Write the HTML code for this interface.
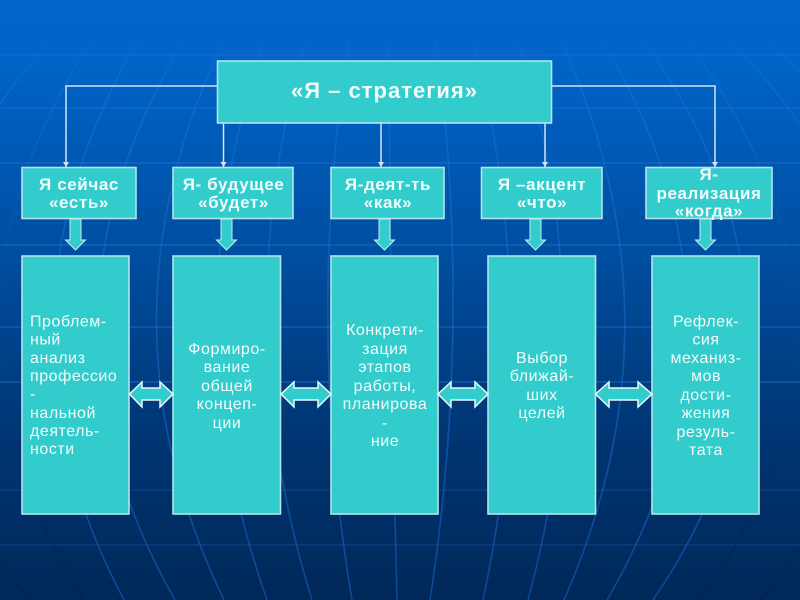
<!DOCTYPE html>
<html lang="ru">
<head>
<meta charset="utf-8">
<title>Я – стратегия</title>
<style>
html,body{margin:0;padding:0;width:800px;height:600px;overflow:hidden;background:#003a80}
svg{display:block;position:absolute;left:0;top:0;filter:blur(.35px)}
text{font-family:"Liberation Sans",sans-serif;fill:#f2fbfb;text-anchor:middle}
.h{font-weight:bold;font-size:17px;letter-spacing:.6px}
.b{font-size:16px;letter-spacing:.55px}
.l{text-anchor:start}
</style>
</head>
<body>
<svg width="800" height="600" viewBox="0 0 800 600" xmlns="http://www.w3.org/2000/svg">
<defs>
<linearGradient id="bg" x1="0" y1="0" x2="0" y2="1">
<stop offset="0" stop-color="#0066cc"/>
<stop offset=".1" stop-color="#0064c8"/>
<stop offset=".45" stop-color="#004c9c"/>
<stop offset=".75" stop-color="#003470"/>
<stop offset="1" stop-color="#002858"/>
</linearGradient>
<linearGradient id="gl" gradientUnits="userSpaceOnUse" x1="0" y1="25" x2="0" y2="600">
<stop offset="0" stop-color="#2a7fe0" stop-opacity="0"/>
<stop offset=".1" stop-color="#2a7fe0" stop-opacity=".3"/>
<stop offset=".6" stop-color="#1a6cd0" stop-opacity=".55"/>
<stop offset="1" stop-color="#0f52a8" stop-opacity=".75"/>
</linearGradient>
<linearGradient id="go" gradientUnits="userSpaceOnUse" x1="0" y1="25" x2="0" y2="600">
<stop offset="0" stop-color="#2a7fe0" stop-opacity="0"/>
<stop offset=".12" stop-color="#2a7fe0" stop-opacity=".3"/>
<stop offset=".5" stop-color="#1a6cd0" stop-opacity="0"/>
<stop offset=".8" stop-color="#001c40" stop-opacity=".15"/>
<stop offset="1" stop-color="#001c40" stop-opacity=".45"/>
</linearGradient>
<marker id="ah" markerWidth="6" markerHeight="6" refX="5" refY="3" orient="auto" markerUnits="userSpaceOnUse">
<path d="M0 0L5 3L0 6Z" fill="#d4e4f6"/>
</marker>
</defs>
<rect width="800" height="600" fill="url(#bg)"/>
<g fill="none" stroke="#1f74da" stroke-width="1.5" stroke-opacity=".5">
<path d="M0 55H800M0 108H800M0 163H800M0 245H800M0 327H800M0 382H800"/>
</g>
<g fill="none" stroke="#1f74da" stroke-width="1.5" stroke-opacity=".25">
<path d="M0 490H800M0 545H800"/>
</g>
<g fill="none" stroke="url(#go)" stroke-width="1.6">
<path d="M51 40Q-200 320 30 600"/>
<path d="M92 40Q-90 320 84 600"/>
<path d="M686 40Q896 320 701 600"/>
<path d="M730 40Q1000 320 760 600"/>
<path d="M765 40Q1100 320 800 600"/>
</g>
<g fill="none" stroke="url(#gl)" stroke-width="1.6">
<path d="M138 40Q-24 320 124 600"/>
<path d="M184 40Q16 320 175 600"/>
<path d="M224 40Q89 320 224 600"/>
<path d="M265 40Q168 320 267 600"/>
<path d="M306 40Q225 320 312 600"/>
<path d="M349 40Q305 320 352 600"/>
<path d="M389 40Q390 320 397 600"/>
<path d="M436 40Q473 320 430 600"/>
<path d="M474 40Q543 320 483 600"/>
<path d="M518 40Q604 320 528 600"/>
<path d="M561 40Q687 320 564 600"/>
<path d="M602 40Q770 320 607 600"/>
<path d="M643 40Q844 320 653 600"/>
</g>
<g fill="none" stroke="#d4e4f6" stroke-width="1.5">
<path d="M218 86H66V167" marker-end="url(#ah)"/>
<path d="M551 86H715V167" marker-end="url(#ah)"/>
<path d="M223.500 123V167" marker-end="url(#ah)"/>
<path d="M381 123V167" marker-end="url(#ah)"/>
<path d="M545 123V167" marker-end="url(#ah)"/>
</g>
<g fill="#33cccc" stroke="#b4e2ee" stroke-width="1.6">
<rect x="217.500" y="61" width="334" height="62"/>
<rect x="22" y="167.500" width="114" height="51"/>
<rect x="173" y="167.500" width="120" height="51"/>
<rect x="331" y="167.500" width="113" height="51"/>
<rect x="481.500" y="167.500" width="120.500" height="51"/>
<rect x="646" y="167.500" width="126" height="51"/>
<rect x="22" y="256" width="107" height="258"/>
<rect x="173" y="256" width="107.500" height="258"/>
<rect x="331" y="256" width="107" height="258"/>
<rect x="488" y="256" width="107.500" height="258"/>
<rect x="652" y="256" width="107" height="258"/>
</g>
<g fill="#33cccc" stroke="#c8ecf0" stroke-width="1">
<path d="M70 219H81V240H85.500L75.500 250L65.500 240H70Z"/>
<path d="M221 219H232V240H236.500L226.500 250L216.500 240H221Z"/>
<path d="M379 219H390V240H394.500L384.500 250L374.500 240H379Z"/>
<path d="M530 219H541V240H545.500L535.500 250L525.500 240H530Z"/>
<path d="M700 219H711V240H715.500L705.500 250L695.500 240H700Z"/>
</g>
<g fill="#33cccc" stroke="#eef8fa" stroke-width="1.5">
<path d="M129.500 394L142 382V388H160V382L173 394L160 407V400H142V407Z"/>
<path d="M281 394L294 382V388H318V382L331 394L318 407V400H294V407Z"/>
<path d="M438 394L451 382V388H475V382L488 394L475 407V400H451V407Z"/>
<path d="M595.500 394L609 382V388H638V382L652 394L638 407V400H609V407Z"/>
</g>
<text x="384.500" y="98" style="font-weight:bold;font-size:22px;letter-spacing:1px">«Я – стратегия»</text>
<g>
<text class="h" x="79" y="190">Я сейчас</text>
<text class="h" x="79" y="208">«есть»</text>
<text class="h" x="233.500" y="190">Я- будущее</text>
<text class="h" x="233.500" y="208">«будет»</text>
<text class="h" x="388" y="190">Я-деят-ть</text>
<text class="h" x="388" y="208">«как»</text>
<text class="h" x="542" y="190">Я –акцент</text>
<text class="h" x="542" y="208">«что»</text>
<text class="h" x="709" y="180">Я-</text>
<text class="h" x="709" y="199">реализация</text>
<text class="h" x="709" y="216.500">«когда»</text>
</g>
<g>
<text class="b l" x="30" y="326.500">Проблем-</text>
<text class="b l" x="30" y="344.500">ный</text>
<text class="b l" x="30" y="363">анализ</text>
<text class="b l" x="30" y="381">профессио</text>
<text class="b l" x="30" y="399">-</text>
<text class="b l" x="30" y="418">нальной</text>
<text class="b l" x="30" y="436">деятель-</text>
<text class="b l" x="30" y="454">ности</text>
<text class="b" x="227" y="354">Формиро-</text>
<text class="b" x="227" y="372">вание</text>
<text class="b" x="227" y="391">общей</text>
<text class="b" x="227" y="409">концеп-</text>
<text class="b" x="227" y="428">ции</text>
<text class="b" x="385" y="335">Конкрети-</text>
<text class="b" x="385" y="354">зация</text>
<text class="b" x="385" y="372">этапов</text>
<text class="b" x="385" y="391">работы,</text>
<text class="b" x="385" y="409">планирова</text>
<text class="b" x="385" y="428">-</text>
<text class="b" x="385" y="446">ние</text>
<text class="b" x="542" y="363">Выбор</text>
<text class="b" x="542" y="381">ближай-</text>
<text class="b" x="542" y="400">ших</text>
<text class="b" x="542" y="418">целей</text>
<text class="b" x="706" y="326.500">Рефлек-</text>
<text class="b" x="706" y="344.500">сия</text>
<text class="b" x="706" y="363">механиз-</text>
<text class="b" x="706" y="381">мов</text>
<text class="b" x="706" y="400">дости-</text>
<text class="b" x="706" y="418">жения</text>
<text class="b" x="706" y="437">резуль-</text>
<text class="b" x="706" y="455">тата</text>
</g>
</svg>
</body>
</html>
